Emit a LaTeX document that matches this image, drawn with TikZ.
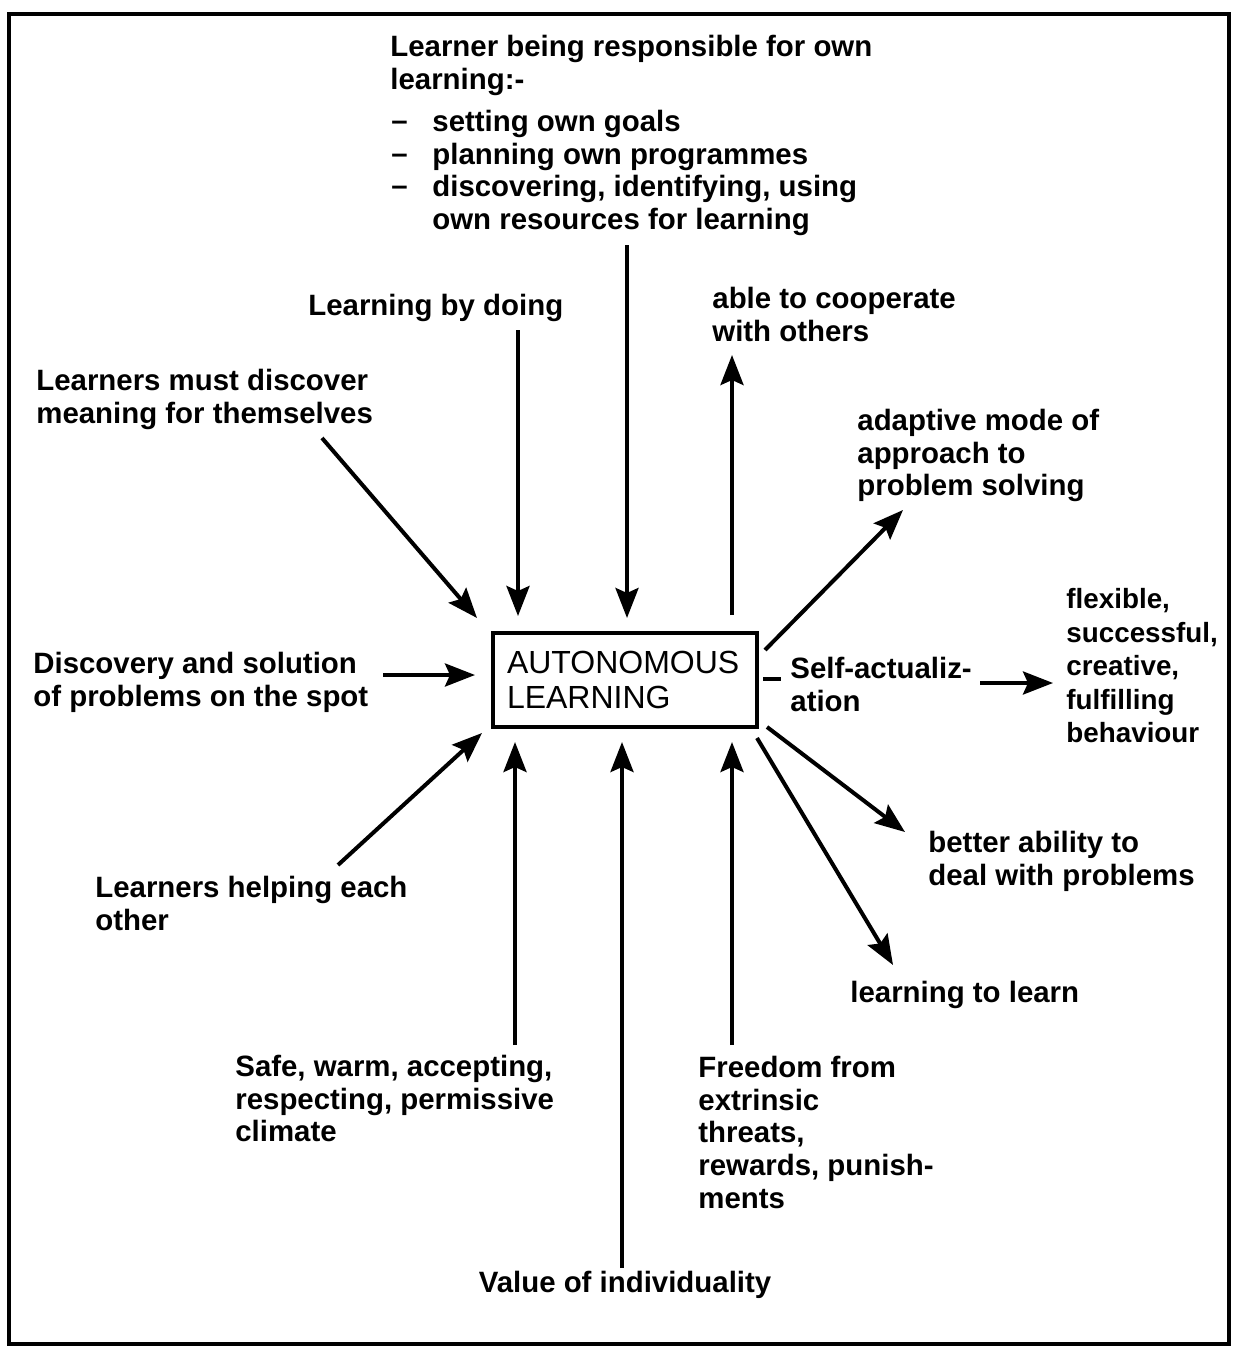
\documentclass[tikz,border=0pt]{standalone}
\usepackage{fontspec}
\setmainfont{Liberation Sans}
\usetikzlibrary{arrows.meta}
\begin{document}
\begin{tikzpicture}[x=0.5pt,y=-0.5pt,
  lbl/.style={inner sep=0pt, anchor=north west, align=left,
    font=\fontsize{14.7}{16.3}\selectfont\bfseries},
  arr/.style={line width=2pt, -{Stealth[length=15pt,width=11.5pt,inset=2.5pt]}},
  boxnode/.style={draw, line width=2pt, minimum width=132pt, minimum height=47pt,
    inner sep=0pt, text width=118pt, align=left,
    font=\fontsize{16}{17.5}\selectfont}
]
\useasboundingbox (0,0) rectangle (1233,1349);
\draw[line width=1.8pt] (9,14) rectangle (1229,1344);

% central box
\node[boxnode] (bx) at (625,680) {AUTONOMOUS\\LEARNING};

% texts
\node[lbl] (resp) at (390,35) {Learner being responsible for own\\learning:-};
\node[lbl] (dashes) at (391,110) {\vphantom{L}–\\\vphantom{L}–\\\vphantom{L}–};
\node[lbl] (items) at (432,110) {setting own goals\\planning own programmes\\discovering, identifying, using\\own resources for learning};
\node[lbl] (doing) at (308,294) {Learning by doing};
\node[lbl] (coop) at (712,287) {able to cooperate\\with others};
\node[lbl] (disc) at (36,369) {Learners must discover\\meaning for themselves};
\node[lbl] (adapt) at (857,409) {adaptive mode of\\approach to\\problem solving};
\node[lbl] (spot) at (33,652) {Discovery and solution\\of problems on the spot};
\node[lbl] (self) at (790,657) {Self-actualiz-\\ation};
\node[lbl, font=\fontsize{13.9}{16.8}\selectfont\bfseries] (flex) at (1066,588) {flexible,\\successful,\\creative,\\fulfilling\\behaviour};
\node[lbl] (better) at (928,831) {better ability to\\deal with problems};
\node[lbl] (l2l) at (850,981) {learning to learn};
\node[lbl] (help) at (95,876) {Learners helping each\\other};
\node[lbl] (safe) at (235,1055) {Safe, warm, accepting,\\respecting, permissive\\climate};
\node[lbl] (free) at (698,1056) {Freedom from\\extrinsic\\threats,\\rewards, punish-\\ments};
\node[lbl, anchor=base] (value) at (625,1292) {Value of individuality};

% short mark before Self-actualization
\coordinate (m1) at (763,679);
\coordinate (m2) at (781,679);
\draw[line width=2pt] (m1) -- (m2);

% arrow ends
\coordinate (sResp) at (627,245);
\coordinate (sDoing) at (518,330);
\coordinate (eCoop) at (732,355);
\coordinate (sDisc) at (322,438);
\coordinate (eDisc) at (477,618);
\coordinate (sAdapt) at (765,650);
\coordinate (eAdapt) at (903,510);
\coordinate (sSpot) at (383,675);
\coordinate (sSelf) at (980,683);
\coordinate (eSelf) at (1053,683);
\coordinate (sBetter) at (767,727);
\coordinate (eBetter) at (905,832);
\coordinate (sL2l) at (757,738);
\coordinate (eL2l) at (893,965);
\coordinate (sHelp) at (338,865);
\coordinate (eHelp) at (482,733);
\coordinate (sSafe) at (515,1045);
\coordinate (sValue) at (622,1268);
\coordinate (sFree) at (732,1045);

% connectors
\draw[arr, shorten >=6.5pt] (sResp) -- (sResp |- bx.north);
\draw[arr, shorten >=7.5pt] (sDoing) -- (sDoing |- bx.north);
\draw[arr, shorten <=8pt] (eCoop |- bx.north) -- (eCoop);
\draw[arr] (sDisc) -- (eDisc);
\draw[arr] (sAdapt) -- (eAdapt);
\draw[arr, shorten >=8pt] (sSpot) -- (sSpot -| bx.west);
\draw[arr] (sSelf) -- (eSelf);
\draw[arr] (sBetter) -- (eBetter);
\draw[arr] (sL2l) -- (eL2l);
\draw[arr] (sHelp) -- (eHelp);
\draw[arr, shorten >=6.5pt] (sSafe) -- (sSafe |- bx.south);
\draw[arr, shorten >=6.5pt] (sValue) -- (sValue |- bx.south);
\draw[arr, shorten >=6.5pt] (sFree) -- (sFree |- bx.south);
\end{tikzpicture}
\end{document}
